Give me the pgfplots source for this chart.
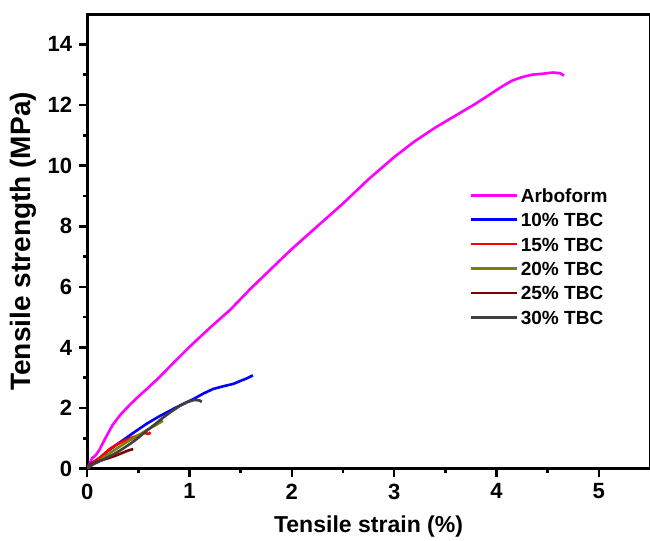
\documentclass[border=0pt]{standalone}
\usepackage{fontspec}
\setmainfont{Liberation Sans}
\usepackage{pgfplots}
\pgfplotsset{compat=1.18}

\definecolor{cArbo}{RGB}{255,0,255}
\definecolor{cTen}{RGB}{0,0,255}
\definecolor{cFif}{RGB}{255,0,0}
\definecolor{cTwe}{RGB}{128,128,0}
\definecolor{cTwf}{RGB}{128,0,0}
\definecolor{cThi}{RGB}{64,64,64}

\begin{document}
\begin{tikzpicture}
\begin{axis}[
  scale only axis, width=281pt, height=227pt,
  xmin=0, xmax=5.5, ymin=0, ymax=15,
  xtick={0,1,2,3,4,5}, ytick={0,2,...,14},
  minor x tick num=1, minor y tick num=1,
  tick pos=left, tick align=outside,
  major tick length=4pt, minor tick length=2pt,
  every tick/.style={black, line width=1.3pt},
  axis line style={line width=1.5pt},
  /pgf/number format/assume math mode=true,
  ticklabel style={font=\bfseries\fontsize{11}{13}\selectfont},
  xlabel={Tensile strain (\%)},
  ylabel={Tensile strength (MPa)},
  xlabel style={font=\bfseries\fontsize{11.5}{13}\selectfont, at={(axis description cs:0.5,-0.103)}, anchor=north, inner sep=0pt},
  ylabel style={font=\bfseries\fontsize{14}{16}\selectfont, at={(axis description cs:-0.114,0.5)}, anchor=center, inner sep=0pt},
  legend cell align=left,
  legend image code/.code={\draw[#1] (0pt,0pt) -- (23pt,0pt);},
  legend style={at={(axis description cs:0.669,0.631)}, anchor=north west, draw=none, fill=none,
    font=\bfseries\fontsize{9.5}{11}\selectfont, row sep=3.2pt,
    nodes={inner sep=1pt, text height=7pt, text depth=0pt}},
  every axis plot/.append style={line width=1.3pt},
]
\addplot[cArbo] coordinates {
(0,0) (0.03,0.2) (0.05,0.36) (0.08,0.43) (0.12,0.62) (0.18,1.02) (0.25,1.45)
(0.33,1.8) (0.42,2.12) (0.5,2.38) (0.58,2.62) (0.7,3.0) (0.84,3.48) (1.0,4.02)
(1.2,4.65) (1.4,5.25) (1.6,5.95) (1.8,6.6) (2.0,7.25) (2.25,8.0) (2.5,8.75)
(2.75,9.55) (3.0,10.28) (3.2,10.8) (3.4,11.25) (3.6,11.65) (3.8,12.05) (3.95,12.38)
(4.05,12.6) (4.15,12.8) (4.25,12.92) (4.35,13.0) (4.45,13.03) (4.55,13.07)
(4.62,13.05) (4.66,12.97)};
\addlegendentry{Arboform}
\addplot[cTen] coordinates {
(0,0) (0.03,0.15) (0.13,0.37) (0.2,0.58) (0.32,0.87) (0.45,1.18) (0.58,1.48)
(0.7,1.72) (0.84,1.97) (0.94,2.14) (1.04,2.3) (1.13,2.47) (1.23,2.63) (1.33,2.72)
(1.43,2.8) (1.5,2.9) (1.56,2.98) (1.62,3.08)};
\addlegendentry{10\% TBC}
\addplot[cFif] coordinates {
(0,0) (0.04,0.15) (0.13,0.38) (0.22,0.65) (0.3,0.82) (0.4,0.98) (0.5,1.1)
(0.56,1.18) (0.6,1.15) (0.62,1.2)};
\addlegendentry{15\% TBC}
\addplot[cTwe] coordinates {
(0,0) (0.05,0.14) (0.13,0.3) (0.25,0.58) (0.35,0.8) (0.42,0.95) (0.5,1.1)
(0.58,1.27) (0.66,1.42) (0.74,1.58)};
\addlegendentry{20\% TBC}
\addplot[cTwf] coordinates {
(0,0) (0.06,0.17) (0.12,0.26) (0.19,0.33) (0.27,0.42) (0.35,0.53) (0.4,0.6) (0.45,0.65)};
\addlegendentry{25\% TBC}
\addplot[cThi] coordinates {
(0,0) (0.06,0.15) (0.13,0.26) (0.25,0.46) (0.33,0.62) (0.42,0.82) (0.5,1.02)
(0.58,1.25) (0.66,1.46) (0.74,1.68) (0.82,1.88) (0.9,2.06) (0.98,2.2) (1.05,2.27)
(1.1,2.25) (1.12,2.2)};
\addlegendentry{30\% TBC}
\end{axis}
\pgfresetboundingbox
\path[use as bounding box] ([shift={(-43.5pt,-36pt)}]current axis.south west)
  rectangle ([shift={(0pt,7pt)}]current axis.north east);
\end{tikzpicture}
\end{document}
